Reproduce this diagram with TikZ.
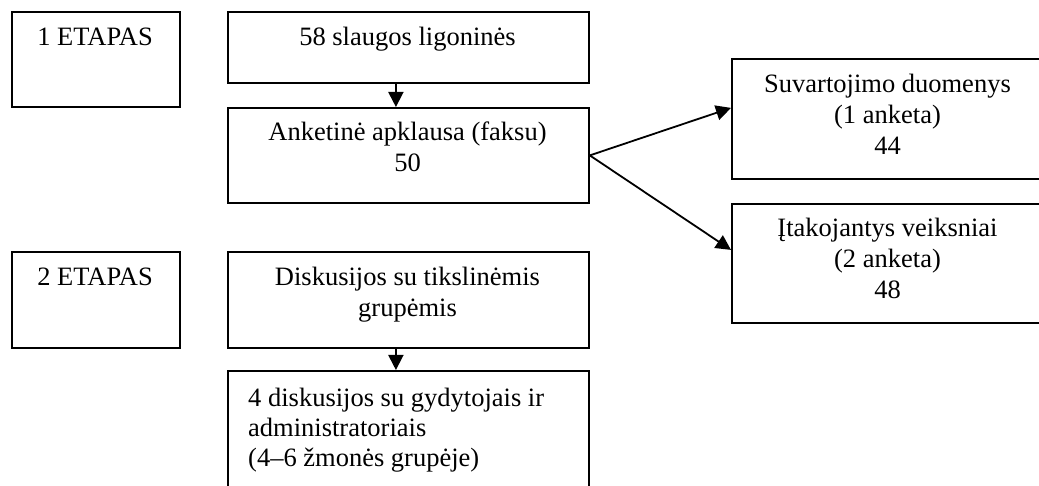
\documentclass[tikz,border=0pt]{standalone}
\usepackage{fontspec}
\setmainfont{Liberation Serif}
\usetikzlibrary{arrows.meta}
\begin{document}
\begin{tikzpicture}[x=1pt,y=-1pt,
  box/.style={draw, line width=1.8pt, inner sep=0pt, anchor=north west},
  txt/.style={inner sep=0pt, anchor=base, font=\fontsize{26.5}{30}\selectfont},
  ltxt/.style={txt, anchor=base west},
  arr/.style={line width=1.8pt, -{Triangle[length=15pt,width=15pt]}}]
\useasboundingbox (0,0) rectangle (1039,486);
% boxes
\node[box, minimum width=168pt, minimum height=95pt] (e1) at (11,11) {};
\node[box, minimum width=361pt, minimum height=71pt] (b58) at (227,11) {};
\node[box, minimum width=361pt, minimum height=95pt] (ank) at (227,107) {};
\node[box, minimum width=313pt, minimum height=120pt] (suv) at (731,58) {};
\node[box, minimum width=313pt, minimum height=119pt] (ita) at (731,203) {};
\node[box, minimum width=168pt, minimum height=96pt] (e2) at (11,251) {};
\node[box, minimum width=361pt, minimum height=96pt] (dis) at (227,251) {};
\node[box, minimum width=361pt, minimum height=130pt] (dis4) at (227,370) {};
% texts
\node[txt] (t1) at (95,46) {1 ETAPAS};
\node[txt] (t2) at (407.5,46) {58 slaugos ligoninės};
\node[txt] (t3) at (407.5,141) {Anketinė apklausa (faksu)};
\node[txt] (t4) at (407.5,172) {50};
\node[txt] (t5) at (887.5,93) {Suvartojimo duomenys};
\node[txt] (t6) at (887.5,124) {(1 anketa)};
\node[txt] (t7) at (887.5,155) {44};
\node[txt] (t8) at (887.5,237) {Įtakojantys veiksniai};
\node[txt] (t9) at (887.5,268) {(2 anketa)};
\node[txt] (t10) at (887.5,299) {48};
\node[txt] (t11) at (95,286) {2 ETAPAS};
\node[txt] (t12) at (407.5,286) {Diskusijos su tikslinėmis};
\node[txt] (t13) at (407.5,317) {grupėmis};
\node[ltxt] (t14) at (248,406) {4 diskusijos su gydytojais ir};
\node[ltxt] (t15) at (248,436) {administratoriais};
\node[ltxt] (t16) at (248,466) {(4--6 žmonės grupėje)};
% arrows
\draw[arr] ([xshift=-12.5pt]b58.south) -- ([xshift=-12.5pt]ank.north);
\draw[arr] (ank.east) -- ([yshift=11pt]suv.west);
\draw[arr] (ank.east) -- ([yshift=13.5pt]ita.west);
\draw[arr] ([xshift=-12.5pt]dis.south) -- ([xshift=-12.5pt]dis4.north);
\end{tikzpicture}
\end{document}
